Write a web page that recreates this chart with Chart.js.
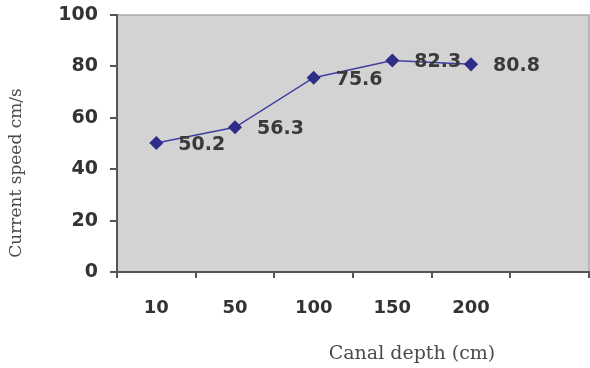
<!DOCTYPE html>
<html>
<head>
<meta charset="utf-8">
<script src="https://cdn.jsdelivr.net/npm/chart.js@4"></script>
<style>
  html, body { margin: 0; padding: 0; background: #fff; }
  #wrap { width: 590px; height: 368px; }
</style>
</head>
<body>
<div id="wrap"><canvas id="depth-chart" width="590" height="368"></canvas></div>
<script>
const depthLabels = ['10', '50', '100', '150', '200', ''];
const speedValues = [50.2, 56.3, 75.6, 82.3, 80.8, null];
const yTicks = [0, 20, 40, 60, 80, 100];
const xTitle = 'Canal depth (cm)';
const yTitle = 'Current speed cm/s';

const BOLD = '"DejaVu Sans", Arial, sans-serif';
const SERIF = '"DejaVu Serif", "Liberation Serif", serif';

const plotFrame = {
  id: 'plotFrame',
  beforeDraw(chart) {
    const { ctx, chartArea: a } = chart;
    ctx.save();
    ctx.fillStyle = '#d3d3d3';
    ctx.fillRect(a.left, a.top, a.right - a.left, a.bottom - a.top);
    ctx.strokeStyle = '#a8a8a8';
    ctx.lineWidth = 1.5;
    ctx.beginPath();
    ctx.moveTo(a.left, a.top);
    ctx.lineTo(a.right, a.top);
    ctx.lineTo(a.right, a.bottom);
    ctx.stroke();
    ctx.restore();
  },
  afterDraw(chart) {
    const { ctx } = chart;
    ctx.save();
    ctx.fillStyle = '#4a4a4a';
    ctx.textAlign = 'center';
    ctx.textBaseline = 'middle';
    ctx.font = '19px ' + SERIF;
    ctx.fillText(xTitle, 412, 354);
    ctx.font = '17px ' + SERIF;
    ctx.translate(17, 173);
    ctx.rotate(-Math.PI / 2);
    ctx.fillText(yTitle, 0, 0);
    ctx.restore();
  }
};

const valueLabels = {
  id: 'valueLabels',
  afterDatasetsDraw(chart) {
    const { ctx } = chart;
    const meta = chart.getDatasetMeta(0);
    ctx.save();
    ctx.fillStyle = '#3a3a3a';
    ctx.font = 'bold 19px ' + BOLD;
    ctx.textAlign = 'left';
    ctx.textBaseline = 'middle';
    meta.data.forEach((pt, i) => {
      const v = speedValues[i];
      if (v == null) return;
      ctx.fillText(v.toFixed(1), pt.x + 22, pt.y + 2);
    });
    ctx.restore();
  }
};

new Chart(document.getElementById('depth-chart').getContext('2d'), {
  type: 'line',
  data: {
    labels: depthLabels,
    datasets: [{
      data: speedValues,
      borderColor: '#3f3fa0',
      borderWidth: 1.5,
      pointStyle: 'rectRot',
      pointRadius: 6,
      pointBackgroundColor: '#2e2e88',
      pointBorderColor: '#2e2e88',
      tension: 0,
    }],
  },
  options: {
    responsive: false,
    animation: false,
    layout: { autoPadding: false, padding: { top: 15, right: 1, left: 0, bottom: 0 } },
    plugins: { legend: { display: false }, tooltip: { enabled: false } },
    scales: {
      x: {
        offset: true,
        afterFit: s => { s.height = 96; s.paddingLeft = 0; s.paddingRight = 0; },
        border: { color: '#555', width: 2 },
        grid: { offset: true, drawOnChartArea: false, tickLength: 6, color: '#555', lineWidth: 2 },
        ticks: { color: '#333', padding: 20, font: { family: BOLD, size: 18, weight: 'bold' } },
      },
      y: {
        min: 0,
        max: 100,
        afterFit: s => { s.width = 117; s.paddingTop = 0; s.paddingBottom = 0; },
        afterBuildTicks: s => { s.ticks = yTicks.map(v => ({ value: v })); },
        border: { color: '#555', width: 2 },
        grid: { drawOnChartArea: false, tickLength: 7, color: '#555', lineWidth: 2 },
        ticks: { color: '#333', padding: 12, font: { family: BOLD, size: 19, weight: 'bold' } },
      },
    },
  },
  plugins: [plotFrame, valueLabels],
});
</script>
</body>
</html>
